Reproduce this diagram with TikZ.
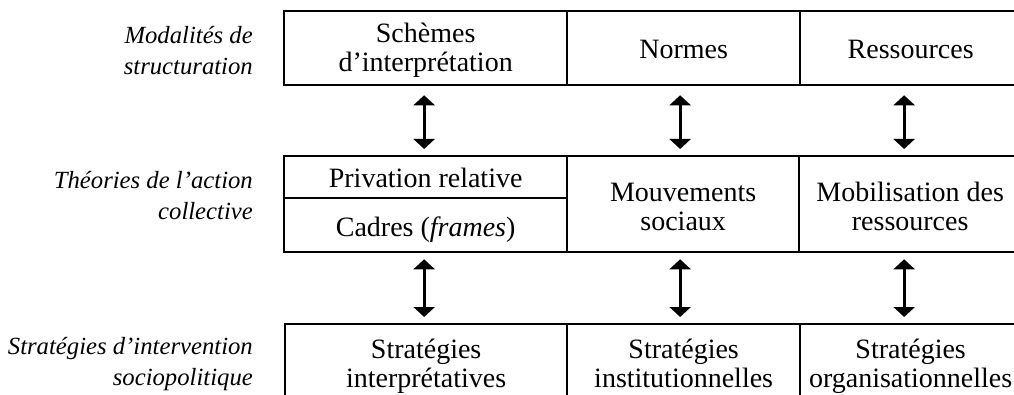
\documentclass[tikz,border=0pt]{standalone}
\usepackage{fontspec}
\setmainfont{Liberation Serif}
\usetikzlibrary{arrows.meta}
\begin{document}
\begin{tikzpicture}[x=1pt,y=-1pt,
  cell/.style={draw, line width=2.3pt, inner sep=0pt, anchor=north west},
  celltext/.style={anchor=base, align=center, inner sep=0pt,
    font=\fontsize{28}{29}\selectfont},
  rowlabel/.style={anchor=base east, align=right, inner sep=0pt,
    font=\fontsize{24.7}{31}\selectfont\itshape},
  link/.style={line width=3.2pt,
    {Triangle[length=10pt,width=21pt]}-{Triangle[length=10pt,width=21pt]}}
]
\useasboundingbox (0,0) rectangle (1014,395);
\clip (0,0) rectangle (1014,395);

% row labels (placed by the baseline of their last line)
\node[rowlabel] (lab1) at (253,75)  {Modalités de\\structuration};
\node[rowlabel] (lab2) at (253,220) {Théories de l’action\\collective};
\node[rowlabel] (lab3) at (253,385) {Stratégies d’intervention\\sociopolitique};

% modalities row
\node[cell, minimum width=283pt, minimum height=74pt] (A1) at (283,10) {};
\node[cell, minimum width=233pt, minimum height=74pt] (A2) at (566,10) {};
\node[cell, minimum width=221pt, minimum height=74pt] (A3) at (799,10) {};
\node[celltext] (tA1) at ([yshift=-62pt]A1.north) {Schèmes\\d’interprétation};
\node[celltext] (tA2) at ([yshift=-49pt]A2.north) {Normes};
\node[celltext] (tA3) at ([yshift=-49pt]A3.north) {Ressources};

% collective action theories row
\node[cell, minimum width=283pt, minimum height=42pt] (B1a) at (283,155) {};
\node[cell, minimum width=283pt, minimum height=54pt] (B1b) at (283,197) {};
\node[cell, minimum width=232pt, minimum height=96pt] (B2) at (566,155) {};
\node[cell, minimum width=222pt, minimum height=96pt] (B3) at (798,155) {};
\node[celltext] (tB1a) at ([yshift=-33pt]B1a.north) {Privation relative};
\node[celltext] (tB1b) at ([yshift=-40pt]B1b.north) {Cadres (\textit{frames})};
\node[celltext] (tB2) at ([yshift=-76pt]B2.north) {Mouvements\\sociaux};
\node[celltext] (tB3) at ([yshift=-76pt]B3.north) {Mobilisation des\\ressources};

% intervention strategies row (open at the bottom)
\node[cell, minimum width=282pt, minimum height=80pt] (C1) at (284,323) {};
\node[cell, minimum width=233pt, minimum height=80pt] (C2) at (566,323) {};
\node[cell, minimum width=221pt, minimum height=80pt] (C3) at (799,323) {};
\node[celltext] (tC1) at ([yshift=-64pt]C1.north) {Stratégies\\interprétatives};
\node[celltext] (tC2) at ([yshift=-64pt]C2.north) {Stratégies\\institutionnelles};
\node[celltext] (tC3) at ([yshift=-64pt]C3.north) {Stratégies\\organisationnelles};

% two-way links between rows
\draw[link] ([xshift=-1.5pt,yshift=-9pt]A1.south) -- ([xshift=-1.5pt,yshift=6pt]B1a.north);
\draw[link] ([xshift=-3.5pt,yshift=-9pt]A2.south) -- ([xshift=-3pt,yshift=6pt]B2.north);
\draw[link] ([xshift=-6.5pt,yshift=-9pt]A3.south) -- ([xshift=-6pt,yshift=6pt]B3.north);
\draw[link] ([xshift=-1.5pt,yshift=-6pt]B1b.south) -- ([xshift=-2pt,yshift=6pt]C1.north);
\draw[link] ([xshift=-3pt,yshift=-6pt]B2.south) -- ([xshift=-3.5pt,yshift=6pt]C2.north);
\draw[link] ([xshift=-6pt,yshift=-6pt]B3.south) -- ([xshift=-6.5pt,yshift=6pt]C3.north);
\end{tikzpicture}
\end{document}
